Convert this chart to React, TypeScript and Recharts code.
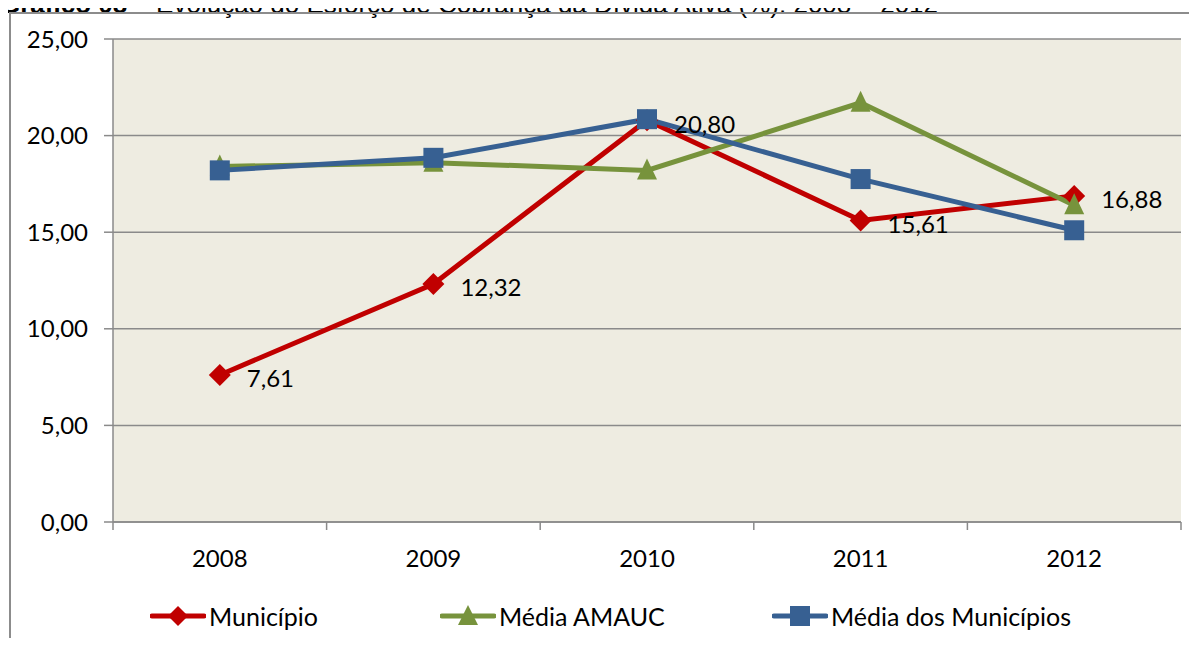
import React from 'react';
import { LineChart, Line, XAxis, YAxis, CartesianGrid, LabelList } from 'recharts';

const years = ['2008', '2009', '2010', '2011', '2012'];
const municipio = [7.61, 12.32, 20.8, 15.61, 16.88];
const mediaAmauc = [18.4, 18.6, 18.2, 21.7, 16.4];
const mediaMunicipios = [18.2, 18.85, 20.85, 17.75, 15.1];
const yTicks = [0, 5, 10, 15, 20, 25];
const seriesNames = ['Município', 'Média AMAUC', 'Média dos Municípios'];
const title = 'Evolução do Esforço de Cobrança da Dívida Ativa (%): 2008 – 2012';

const RED = '#C00000';
const GREEN = '#77933C';
const BLUE = '#376092';
const GRID = '#8A8A8A';
const FONT = 'Lato, "Open Sans", sans-serif';

const data = years.map((year, i) => ({
  year,
  municipio: municipio[i],
  amauc: mediaAmauc[i],
  municipios: mediaMunicipios[i],
}));

const WIDTH = 1189;
const HEIGHT = 600;
const MARGIN = { top: 31, right: 16, left: 0, bottom: 36 };
const Y_WIDTH = 105;
const BAND = (WIDTH - MARGIN.left - MARGIN.right - Y_WIDTH) / years.length;

const fmt = (v: number) => v.toFixed(2).replace('.', ',');

// Excel-style markers
const Diamond = ({ cx, cy }: any) => {
  if (cx == null || cy == null) return null;
  const r = 11;
  return <path d={`M${cx},${cy - r}L${cx + r},${cy}L${cx},${cy + r}L${cx - r},${cy}Z`} fill={RED} />;
};

const Triangle = ({ cx, cy }: any) => {
  if (cx == null || cy == null) return null;
  return <path d={`M${cx},${cy - 12}L${cx + 10},${cy + 9}L${cx - 10},${cy + 9}Z`} fill={GREEN} />;
};

const Square = ({ cx, cy }: any) => {
  if (cx == null || cy == null) return null;
  return <rect x={cx - 10} y={cy - 10} width={20} height={20} fill={BLUE} />;
};

// category labels with tick marks between categories
const XTick = ({ x, y, payload, index }: any) => (
  <g>
    <line x1={x - BAND / 2} y1={y} x2={x - BAND / 2} y2={y + 8} stroke={GRID} strokeWidth={1.5} />
    {index === years.length - 1 && (
      <line x1={x + BAND / 2} y1={y} x2={x + BAND / 2} y2={y + 8} stroke={GRID} strokeWidth={1.5} />
    )}
    <text x={x} y={y + 35} textAnchor="middle" dominantBaseline="central" fill="#000" fontSize={24} fontFamily={FONT}>
      {payload.value}
    </text>
  </g>
);

const ValueLabel = ({ x, y, value }: any) => (
  <text x={x + 27} y={y + 3} dominantBaseline="central" fill="#000" fontSize={24} fontFamily={FONT}>
    {fmt(value)}
  </text>
);

const LegendIcon = ({ color, marker }: { color: string; marker: string }) => (
  <svg width={56} height={24} style={{ display: 'block' }}>
    <line x1={2} y1={12} x2={54} y2={12} stroke={color} strokeWidth={5} strokeLinecap="round" />
    {marker === 'diamond' && <path d="M28,2L38,12L28,22L18,12Z" fill={color} />}
    {marker === 'triangle' && <path d="M28,1L38,21L18,21Z" fill={color} />}
    {marker === 'square' && <rect x={18} y={2} width={20} height={20} fill={color} />}
  </svg>
);

const legendItems = [
  { name: seriesNames[0], color: RED, marker: 'diamond', left: 142 },
  { name: seriesNames[1], color: GREEN, marker: 'triangle', left: 432 },
  { name: seriesNames[2], color: BLUE, marker: 'square', left: 764 },
];

export default function App() {
  return (
    <div style={{ position: 'relative', width: 1181, height: 630, fontFamily: FONT }}>
      <div
        style={{
          position: 'absolute',
          left: -8,
          top: -16,
          lineHeight: '24px',
          whiteSpace: 'nowrap',
          fontFamily: '"Liberation Sans", Arial, sans-serif',
          fontSize: 26,
          color: '#000',
        }}
      >
        <b>Gráfico 08</b> – {title}
      </div>
      <div
        style={{
          position: 'absolute',
          left: 1,
          top: 4,
          width: 1200,
          height: 700,
          borderLeft: '2px solid #8C8C8C',
          borderTop: '2px solid #8C8C8C',
          boxSizing: 'border-box',
        }}
      />
      <div style={{ position: 'absolute', left: 0, top: 0 }}>
        <LineChart width={WIDTH} height={HEIGHT} data={data} margin={MARGIN}>
          <CartesianGrid vertical={false} stroke={GRID} strokeWidth={1.5} fill="#EEECE1" fillOpacity={1} />
          <XAxis
            dataKey="year"
            padding={{ left: BAND / 2, right: BAND / 2 }}
            axisLine={{ stroke: GRID, strokeWidth: 1.5 }}
            tickLine={false}
            tickSize={0}
            tickMargin={0}
            height={50}
            tick={<XTick />}
            interval={0}
          />
          <YAxis
            width={Y_WIDTH}
            domain={[0, 25]}
            ticks={yTicks}
            tickFormatter={fmt}
            axisLine={{ stroke: GRID, strokeWidth: 1.5 }}
            tickLine={{ stroke: GRID, strokeWidth: 1.5 }}
            tickSize={9}
            tickMargin={16}
            tick={{ fill: '#000', fontSize: 24, fontFamily: FONT }}
            interval={0}
          />
          <Line
            dataKey="municipio"
            stroke={RED}
            strokeWidth={5}
            dot={<Diamond />}
            activeDot={false}
            isAnimationActive={false}
          />
          <Line
            dataKey="amauc"
            stroke={GREEN}
            strokeWidth={5}
            dot={<Triangle />}
            activeDot={false}
            isAnimationActive={false}
          />
          <Line
            dataKey="municipios"
            stroke={BLUE}
            strokeWidth={5}
            dot={<Square />}
            activeDot={false}
            isAnimationActive={false}
          />
          {/* labels for Município drawn last so they sit above every line */}
          <Line
            dataKey="municipio"
            stroke="none"
            dot={false}
            activeDot={false}
            legendType="none"
            isAnimationActive={false}
          >
            <LabelList dataKey="municipio" content={<ValueLabel />} />
          </Line>
        </LineChart>
      </div>
      {legendItems.map((item) => (
        <div
          key={item.name}
          style={{
            position: 'absolute',
            left: item.left,
            top: 593,
            display: 'flex',
            alignItems: 'center',
            fontSize: 25,
            color: '#000',
            whiteSpace: 'nowrap',
          }}
        >
          <LegendIcon color={item.color} marker={item.marker} />
          <span style={{ marginLeft: 3 }}>{item.name}</span>
        </div>
      ))}
    </div>
  );
}
